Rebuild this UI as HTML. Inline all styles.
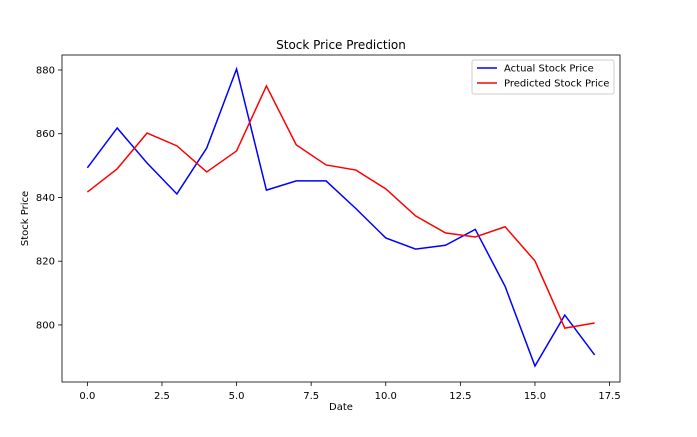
<!DOCTYPE html>
<html><head><meta charset="utf-8"><style>
body{margin:0;background:#fff;font-family:"Liberation Sans","DejaVu Sans",sans-serif;}
svg text{font-family:"DejaVu Sans","Liberation Sans",sans-serif;}
</style></head><body>
<svg id="chart" width="697" height="432"></svg>
<script>
const xCategories=[0,1,2,3,4,5,6,7,8,9,10,11,12,13,14,15,16,17];
const actualValues=[849.3,861.8,850.8,841.1,855.5,880.3,842.3,845.2,845.2,836.5,827.3,823.8,825.0,830.0,812.1,787.1,803.1,790.6];
const predictedValues=[841.7,849.0,860.2,856.2,848.0,854.6,875.0,856.5,850.2,848.6,842.7,834.2,828.9,827.6,830.8,820.1,799.0,800.6];
const xTickLabels=["0.0","2.5","5.0","7.5","10.0","12.5","15.0","17.5"];
const yTickLabels=["800","820","840","860","880"];
const NS="http://www.w3.org/2000/svg";
const svg=document.getElementById('chart');
const L=62,R=620,T=55,B=382;
const xMin=-0.85,xMax=17.85,yMin=782.1,yMax=884.7;
const X=v=>L+(v-xMin)/(xMax-xMin)*(R-L);
const Y=v=>B-(v-yMin)/(yMax-yMin)*(B-T);
function mk(t,a){const e=document.createElementNS(NS,t);for(const k in a)e.setAttribute(k,a[k]);svg.appendChild(e);return e;}
let e=mk('rect',{x:L,y:T,width:R-L,height:B-T,fill:'none',stroke:'#000','stroke-width':0.8});


xTickLabels.forEach(s=>{const v=parseFloat(s),x=X(v);
 let t=mk('line',{x1:x,x2:x,y1:B,y2:B+4,stroke:'#000','stroke-width':0.8});
 
 
 let tx=mk('text',{x:x,y:B+17,'text-anchor':'middle','font-size':10});tx.textContent=s;
 
 });
yTickLabels.forEach(s=>{const v=parseFloat(s),y=Y(v);
 let t=mk('line',{x1:L-4,x2:L,y1:y,y2:y,stroke:'#000','stroke-width':0.8});
 
 
 let tx=mk('text',{x:L-7,y:y+3.5,'text-anchor':'end','font-size':10});tx.textContent=s;
 
 });
function series(vals,color,name){
 const p=mk('polyline',{points:vals.map((v,i)=>X(xCategories[i])+','+Y(v)).join(' '),fill:'none',stroke:color,'stroke-width':1.5});
 
 }
series(actualValues,'#0000ff','actual-line');
series(predictedValues,'#ff0000','predicted-line');
let tt=mk('text',{x:(L+R)/2,y:49,'text-anchor':'middle','font-size':12});tt.textContent='Stock Price Prediction';


let xl=mk('text',{x:(L+R)/2,y:410,'text-anchor':'middle','font-size':10});xl.textContent='Date';


let yl=mk('text',{x:28,y:(T+B)/2,'text-anchor':'middle','font-size':10,transform:'rotate(-90 28 '+(T+B)/2+')'});yl.textContent='Stock Price';


let lg=mk('rect',{x:472,y:60,width:142,height:34,fill:'#fff',stroke:'#ccc',rx:2});


[['Actual Stock Price','#0000ff',68],['Predicted Stock Price','#ff0000',83]].forEach(([n,c,y])=>{
 let l=mk('line',{x1:477,x2:497,y1:y,y2:y,stroke:c,'stroke-width':1.5});
 
 
 let t=mk('text',{x:504,y:y+3.5,'font-size':10});t.textContent=n;
 
 });
</script>
</body></html>
